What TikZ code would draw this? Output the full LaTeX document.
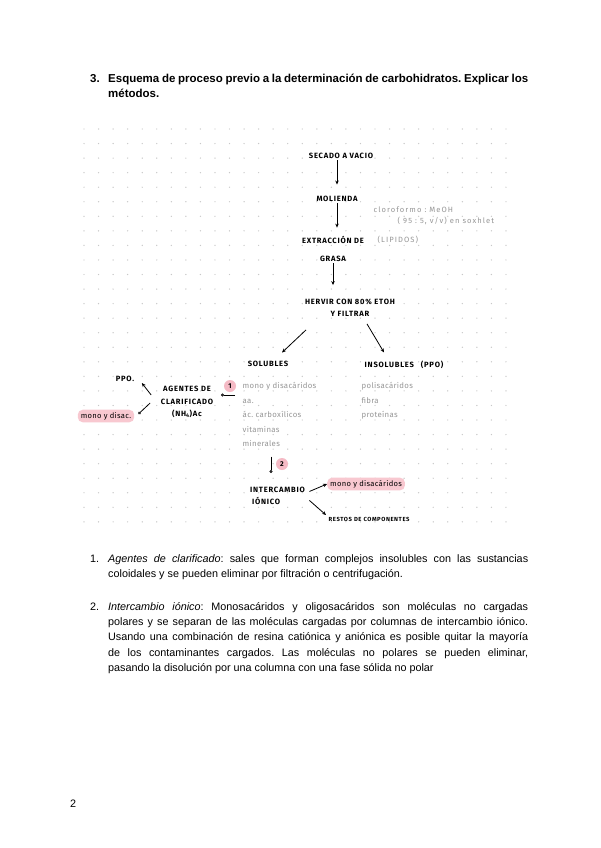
\documentclass[tikz,border=0pt]{standalone}
\usepackage{fontspec}
\setmainfont{Liberation Sans}
\newfontfamily\handfont[LetterSpace=10]{Fira Sans}
\newfontfamily\notefont[LetterSpace=4]{Fira Sans}
\newfontfamily\widenote[LetterSpace=14]{Fira Sans}
\definecolor{pinkmark}{RGB}{248,200,208}
\definecolor{pinkdot}{RGB}{245,186,197}
\definecolor{notegrey}{RGB}{150,150,150}
\definecolor{griddot}{RGB}{200,200,200}
\usetikzlibrary{arrows.meta,calc}

\begin{document}
\frenchspacing
\begin{tikzpicture}[x=1pt,y=-1pt,
    hand/.style={font=\handfont\bfseries\fontsize{7.6}{12}\selectfont, inner sep=1.5pt, align=center},
    note/.style={font=\notefont\fontsize{7.8}{14.6}\selectfont, text=notegrey, inner sep=1.5pt, align=left},
    highlit/.style={fill=pinkmark, rounded corners=5pt, inner xsep=3pt, inner ysep=2.5pt, font=\notefont\fontsize{7.6}{9}\selectfont},
    tag/.style={circle, fill=pinkdot, inner sep=0pt, minimum size=12pt, font=\handfont\bfseries\fontsize{7}{8}\selectfont},
    flow/.style={line width=0.8pt, -{Stealth[length=4pt,width=3.5pt]}},
    ring/.style={line width=0.8pt, -{Circle[open,length=3pt,width=3pt]}},
    body/.style={font=\fontsize{10.8}{15.3}\selectfont, inner sep=0pt, text width=420pt, align=justify, anchor=north west}]
  \fill[white] (0,0) rectangle (600,848);
  \useasboundingbox (0,0) rectangle (600,848);
  \foreach \i in {0,...,29}
    \foreach \j in {0,...,27}
      \fill[griddot] (84+14.55*\i,129+14.55*\j) circle (0.7);

  \node[anchor=north west, inner sep=0pt, font=\bfseries\fontsize{11.5}{15}\selectfont] (qnum) at (90,71.5) {\strut 3.};
  \node[body, font=\bfseries\fontsize{11.5}{15}\selectfont] (qtext) at (108,71.5) {\strut Esquema de proceso previo a la determinación de carbohidratos. Explicar los\linebreak métodos.};

  \node[hand] (secado) at (341,156) {SECADO A VACIO};
  \node[hand] (molienda) at (337,199) {MOLIENDA};
  \node[hand] (extraccion) at (333,249) {EXTRACCIÓN DE\\[6pt]GRASA};
  \node[note, anchor=west, font=\widenote\fontsize{7.6}{9}\selectfont] (lipidos) at (376,239.5) {(LIPIDOS)};
  \node[note, anchor=west, font=\widenote\fontsize{7.6}{9}\selectfont] (solvente) at (372,210) {cloroformo : MeOH};
  \node[note, anchor=west, font=\widenote\fontsize{7.6}{9}\selectfont] (proporcion) at (396,221) {( 95 : 5, v/v) en soxhlet};
  \node[hand] (hervir) at (350,307.5) {HERVIR CON 80\% ETOH\\[0pt]Y FILTRAR};
  \node[hand] (solubles) at (268,364) {SOLUBLES};
  \node[hand] (insolubles) at (404,365) {INSOLUBLES\hspace{7pt}(PPO)};
  \node[note, anchor=north west] (sollist) at (241,380.5) {mono y disacáridos\\aa.\\ác. carboxílicos\\vitaminas\\minerales};
  \node[note, anchor=north west] (insollist) at (360,380.5) {polisacáridos\\fibra\\proteínas};
  \node[hand] (agentes) at (187,402) {AGENTES DE\\[1pt]CLARIFICADO\\[0pt](NH\textsubscript{4})Ac};
  \node[hand] (ppo) at (125,379) {PPO.};
  \node[highlit] (monoizq) at (106,416) {mono y disac.};
  \node[tag] (uno) at (230,386) {1};
  \node[tag] (dos) at (282,464) {2};
  \node[hand, align=left, anchor=north west] (intercambio) at (248.5,485) {INTERCAMBIO\\[0pt]\hspace{2pt}IÓNICO};
  \node[highlit, anchor=west] (monoder) at (327,484) {mono y disacáridos};
  \node[hand, anchor=west, font=\handfont\bfseries\fontsize{5.9}{8}\selectfont] (restos) at (327,519) {RESTOS DE COMPONENTES};

  \draw[flow, shorten >=10pt] (molienda |- secado.south) -- (molienda.north);
  \draw[flow, shorten >=7pt] (molienda) -- (molienda |- extraccion.north);
  \draw[flow, shorten >=12pt] (extraccion) -- (extraccion |- hervir.north);
  \draw[flow] ([shift={(-44,12)}]hervir.south) -- ([shift={(14,-7)}]solubles.north);
  \draw[flow] ([shift={(17,6)}]hervir.south) -- ([shift={(-20,-7)}]insolubles.north);
  \draw[flow] ([shift={(-8,-7)}]agentes.west) -- ([shift={(6,4)}]ppo.east);
  \draw[ring] ([shift={(-9,1)}]agentes.west) -- ([shift={(4,-2)}]monoizq.east);
  \draw[ring] ([shift={(-6,14.5)}]sollist.north west) -- ([shift={(-20,14.5)}]sollist.north west);
  \coordinate (bajada) at ([shift={(30,8)}]sollist.south west);
  \draw[ring, shorten >=12pt] (bajada) -- (bajada |- intercambio.north);
  \draw[flow] ([shift={(3,-4)}]intercambio.east) -- (monoder.west);
  \draw[flow] ([shift={(3,5)}]intercambio.east) -- ([shift={(-1,-4)}]restos.west);

  \node[anchor=north west, inner sep=0pt, font=\fontsize{10.8}{15.3}\selectfont] (num1) at (90,551.3) {\strut 1.};
  \node[body] (parrafo1) at (108,551.3) {\strut\textit{Agentes de clarificado}: sales que forman complejos insolubles con las sustancias\linebreak coloidales y se pueden eliminar por filtración o centrifugación.};
  \node[anchor=north west, inner sep=0pt, font=\fontsize{10.8}{15.3}\selectfont] (num2) at (90,599.3) {\strut 2.};
  \node[body] (parrafo2) at (108,599.3) {\strut\textit{Intercambio iónico}: Monosacáridos y oligosacáridos son moléculas no cargadas\linebreak polares y se separan de las moléculas cargadas por columnas de intercambio iónico.\linebreak Usando una combinación de resina catiónica y aniónica es posible quitar la mayoría\linebreak de los contaminantes cargados. Las moléculas no polares se pueden eliminar,\linebreak pasando la disolución por una columna con una fase sólida no polar};
  \node[anchor=base west, inner sep=0pt, font=\fontsize{10.8}{13}\selectfont] (pagina) at (70,807) {2};
\end{tikzpicture}
\end{document}
